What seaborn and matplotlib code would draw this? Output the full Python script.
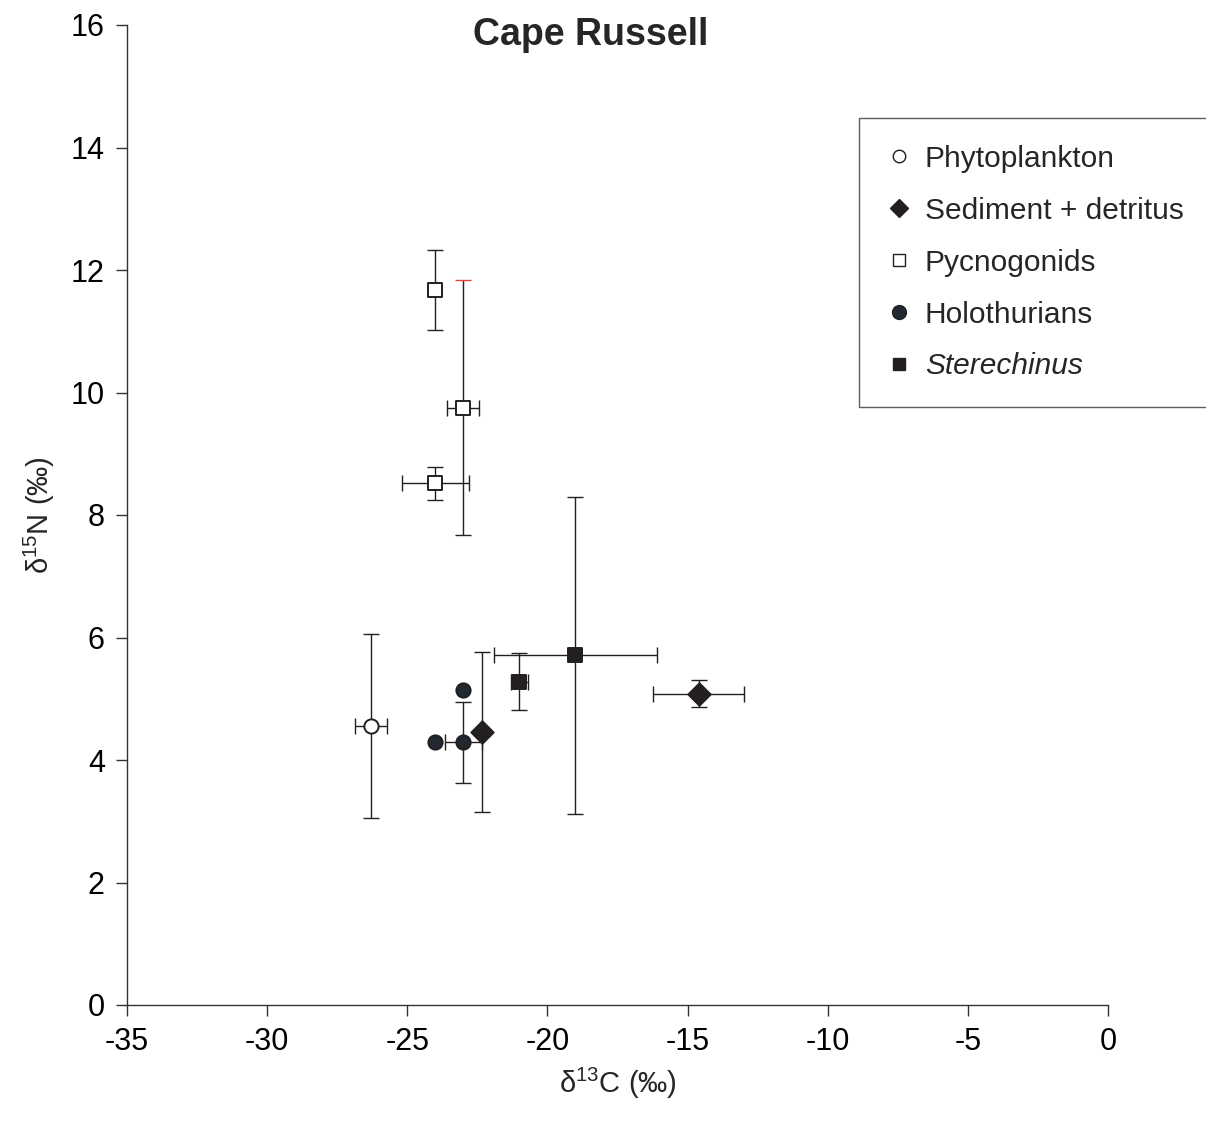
import numpy as np
import pandas as pd
import matplotlib
matplotlib.use("Agg")
import matplotlib.pyplot as plt
from matplotlib.lines import Line2D
import seaborn as sns

sns.set_theme(style="ticks")
plt.rcParams['font.family'] = ['Liberation Sans', 'DejaVu Sans']
plt.rcParams['mathtext.fontset'] = 'custom'
plt.rcParams['mathtext.rm'] = 'Liberation Sans'
plt.rcParams['mathtext.it'] = 'Liberation Sans:italic'
plt.rcParams['axes.unicode_minus'] = False

# ---- data ----
groups = ["Phytoplankton", "Sediment + detritus", "Pycnogonids", "Holothurians", "Sterechinus"]

phyto_x = [-26.3]
phyto_y = [4.56]
phyto_xerr = [0.57]
phyto_yerr = [1.5]

sed_x = [-22.35, -14.6]
sed_y = [4.46, 5.08]
sed_xerr = [0.0, 1.63]
sed_yerr = [1.31, 0.22]

pyc_x = [-24.0, -23.0, -24.0]
pyc_y = [11.67, 9.75, 8.52]
pyc_xerr = [0.0, 0.57, 1.2]
pyc_yerr = [0.65, 2.08, 0.27]

holo_x = [-24.0, -23.0, -23.0]
holo_y = [4.29, 4.29, 5.14]
holo_xerr = [0.0, 0.67, 0.0]
holo_yerr = [0.0, 0.66, 0.0]

ster_x = [-21.0, -19.0]
ster_y = [5.28, 5.71]
ster_xerr = [0.3, 2.9]
ster_yerr = [0.47, 2.59]

x_ticks = [-35, -30, -25, -20, -15, -10, -5, 0]
y_ticks = [0, 2, 4, 6, 8, 10, 12, 14, 16]

rows = []
for g, xs, ys, xe, ye in [
    ("Phytoplankton", phyto_x, phyto_y, phyto_xerr, phyto_yerr),
    ("Sediment + detritus", sed_x, sed_y, sed_xerr, sed_yerr),
    ("Pycnogonids", pyc_x, pyc_y, pyc_xerr, pyc_yerr),
    ("Holothurians", holo_x, holo_y, holo_xerr, holo_yerr),
    ("Sterechinus", ster_x, ster_y, ster_xerr, ster_yerr),
]:
    for a, b, c, d in zip(xs, ys, xe, ye):
        rows.append(dict(group=g, x=a, y=b, xerr=c, yerr=d))
df = pd.DataFrame(rows)

style = {
    "Phytoplankton": dict(marker="o", face="white", size=105, lsize=9),
    "Sediment + detritus": dict(marker="D", face="#231f20", size=130, lsize=9),
    "Pycnogonids": dict(marker="s", face="white", size=100, lsize=8.5),
    "Holothurians": dict(marker="o", face="#222830", size=105, lsize=10),
    "Sterechinus": dict(marker="s", face="#231f20", size=100, lsize=8.5),
}

fig = plt.figure(figsize=(12.06, 11.27), dpi=100)
ax = fig.add_axes([127/1206, 1 - 1005/1127, (1108-127)/1206, (1005-25)/1127])

ecol = "#231f20"
# error bars
for _, r in df.iterrows():
    if r.xerr > 0:
        ax.errorbar(r.x, r.y, xerr=r.xerr, fmt="none", ecolor=ecol, elinewidth=1.0,
                    capsize=6, capthick=1.0, zorder=2)
    if r.yerr > 0:
        _, caps, _ = ax.errorbar(r.x, r.y, yerr=r.yerr, fmt="none", ecolor=ecol, elinewidth=1.0,
                                 capsize=6, capthick=1.0, zorder=2)
        if r.group == "Pycnogonids" and abs(r.y - 9.75) < 0.01:
            top = max(caps, key=lambda c: c.get_ydata()[0])
            top.set_markeredgecolor("#e8452c")
            top.set_markerfacecolor("#e8452c")

# markers
for g in groups:
    st = style[g]
    sub = df[df.group == g]
    sns.scatterplot(data=sub, x="x", y="y", marker=st["marker"], color=st["face"],
                    edgecolor="#231f20", linewidth=1.4, s=st["size"], ax=ax, zorder=3,
                    legend=False)

ax.set_xlim(-35, 0)
ax.set_ylim(0, 16)
ax.set_xticks(x_ticks)
ax.set_yticks(y_ticks)
ax.tick_params(axis="both", labelsize=22, length=8, width=1, color="#333333",
               direction="out", labelcolor="black", pad=8)
for s in ["top", "right"]:
    ax.spines[s].set_visible(False)
for s in ["left", "bottom"]:
    ax.spines[s].set_color("#333333")
    ax.spines[s].set_linewidth(1)

ax.set_xlabel("δ$^{13}$C (‰)", fontsize=21, labelpad=6)
ax.set_ylabel("δ$^{15}$N (‰)", fontsize=21, labelpad=10)

fig.text(591/1206, 1 - 35/1127, "Cape Russell", fontsize=27, fontweight="bold",
         ha="center", va="center")

handles = []
for g in groups:
    st = style[g]
    handles.append(Line2D([], [], linestyle="none", marker=st["marker"],
                          markerfacecolor=st["face"], markeredgecolor="#231f20",
                          markeredgewidth=1.0, markersize=st["lsize"]))
labels = ["Phytoplankton", "Sediment + detritus", "Pycnogonids", "Holothurians",
          "Sterechinus"]
leg = fig.legend(handles, labels, loc="upper left",
                 bbox_to_anchor=(859/1206, 1 - 404/1127, 0.3, (404-118)/1127),
                 mode="expand", fontsize=21.5,
                 frameon=True, fancybox=False, edgecolor="#333333",
                 borderpad=0.9, labelspacing=0.8, handletextpad=0.45,
                 handlelength=0.85, borderaxespad=0)
leg.get_frame().set_linewidth(1.0)
leg.get_texts()[4].set_fontstyle("italic")

fig.savefig("out.png", dpi=100)
